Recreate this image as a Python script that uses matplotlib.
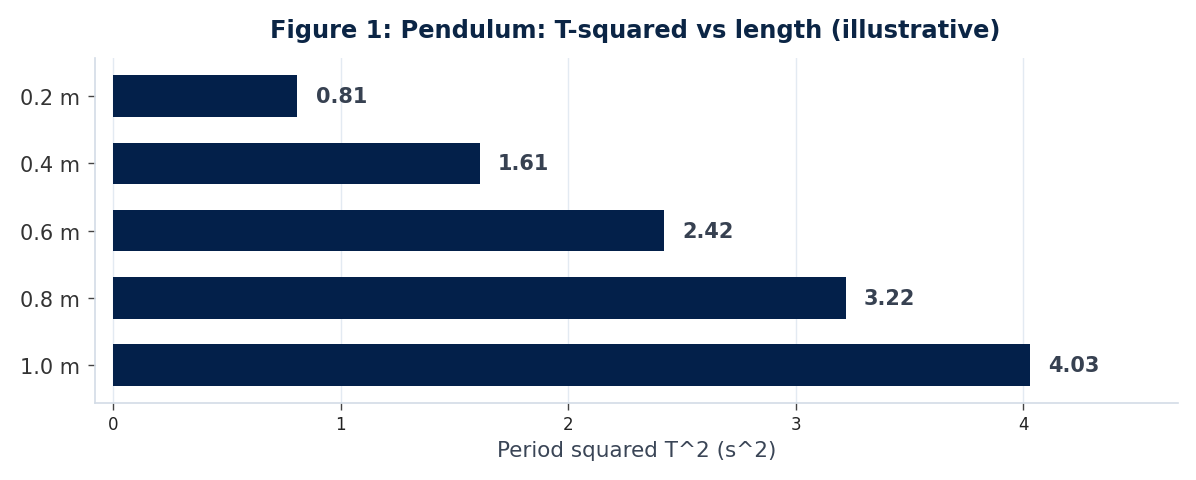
import numpy as np
import matplotlib
matplotlib.use('Agg')
import matplotlib.pyplot as plt

plt.rcParams['font.family'] = ['DejaVu Sans']

lengths = ['0.2 m', '0.4 m', '0.6 m', '0.8 m', '1.0 m']
t_squared = [0.81, 1.61, 2.42, 3.22, 4.03]

navy = '#03204a'
fig = plt.figure(figsize=(11.96, 4.81), dpi=100)
ax = fig.add_axes([0.0794, 0.160, 0.9056, 0.717])

y = np.arange(len(lengths))
ax.barh(y, t_squared, height=0.62, color=navy, zorder=3)
for yi, v in zip(y, t_squared):
    ax.text(v + 0.08, yi, f'{v:.2f}', va='center', ha='left',
            fontsize=15, fontweight='bold', color='#374151')

ax.set_yticks(y)
ax.set_yticklabels(lengths, fontsize=15, color='#333333')
ax.set_xticks([0, 1, 2, 3, 4])
ax.tick_params(axis='x', labelsize=12, colors='#222222')
ax.tick_params(axis='both', length=5, width=1, color='#444444')
ax.tick_params(axis='y', pad=6)
ax.set_xlim(-0.08, 4.68)
ax.set_ylim(4.565, -0.565)

ax.grid(axis='x', color='#e3eaf2', linewidth=1, zorder=0)
for s in ['top', 'right']:
    ax.spines[s].set_visible(False)
for s in ['left', 'bottom']:
    ax.spines[s].set_color('#d3dce6')
    ax.spines[s].set_linewidth(1.2)

ax.set_xlabel('Period squared T^2 (s^2)', fontsize=15.5, color='#3a4556', labelpad=5)
fig.text(0.531, 0.935, 'Figure 1: Pendulum: T-squared vs length (illustrative)',
         ha='center', va='center', fontsize=17.4, fontweight='bold', color='#0b2545')

fig.savefig('out.png', dpi=100, facecolor='white')
